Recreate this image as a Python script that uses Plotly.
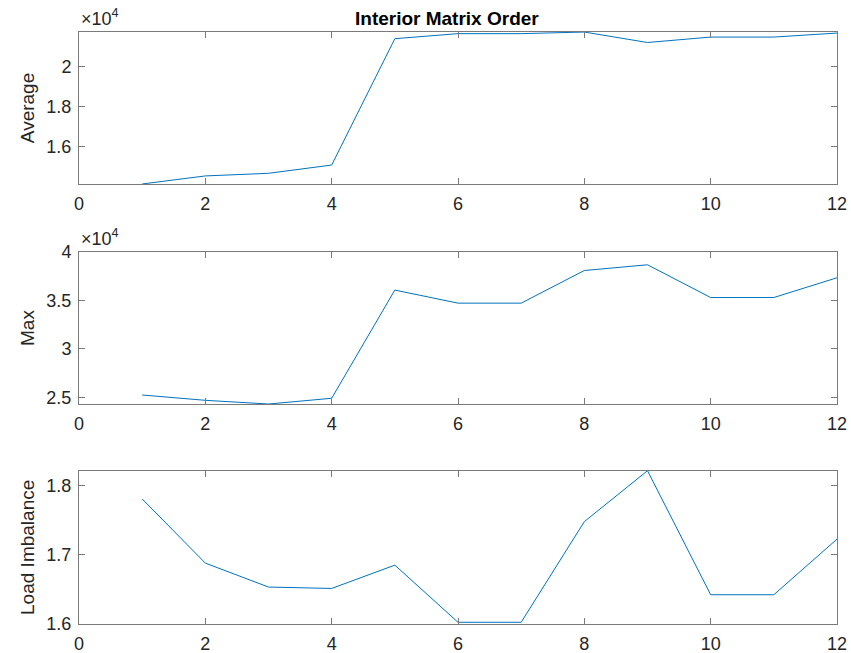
import plotly.graph_objects as go
from plotly.subplots import make_subplots

# Matrix order index
order = [1, 2, 3, 4, 5, 6, 7, 8, 9, 10, 11, 12]

# Per-order statistics
average = [14150, 14550, 14680, 15090, 21370, 21620, 21620, 21700, 21180, 21450, 21450, 21650]
maximum = [25240, 24690, 24310, 24900, 36070, 34720, 34720, 38090, 38680, 35300, 35300, 37340]
imbalance = [1.7808, 1.688, 1.6534, 1.6514, 1.6851, 1.6025, 1.6025, 1.748, 1.8216, 1.6423, 1.6423, 1.7227]

x_ticks = [0, 2, 4, 6, 8, 10, 12]

W, H = 851, 653
ML, MR, MT, MB = 79, 14, 32, 29
PH = H - MT - MB


def ydom(top_px, bot_px):
    lo = 1 - (bot_px - MT) / PH
    hi = 1 - (top_px - MT) / PH
    return [max(0.0, min(1.0, lo)), max(0.0, min(1.0, hi))]


fig = make_subplots(rows=3, cols=1)

line_color = "#0072BD"
fig.add_trace(go.Scatter(x=order, y=[v / 1e4 for v in average], mode="lines",
                         line=dict(color=line_color, width=1)), row=1, col=1)
fig.add_trace(go.Scatter(x=order, y=[v / 1e4 for v in maximum], mode="lines",
                         line=dict(color=line_color, width=1)), row=2, col=1)
fig.add_trace(go.Scatter(x=order, y=imbalance, mode="lines",
                         line=dict(color=line_color, width=1)), row=3, col=1)

FONT = "Liberation Sans, Arial, sans-serif"
tick_font = dict(family=FONT, size=18, color="#262626")
label_font = dict(family=FONT, size=19, color="#262626")
axis_color = "#7a7a7a"

common_x = dict(range=[0, 12], tickvals=x_ticks, ticks="inside", ticklen=6,
                tickcolor=axis_color, showline=True, linecolor=axis_color, linewidth=1,
                mirror="ticks", showgrid=False, zeroline=False, tickfont=tick_font,
                automargin=False, ticklabelstandoff=3)
common_y = dict(ticks="inside", ticklen=6, tickcolor=axis_color, showline=True,
                linecolor=axis_color, linewidth=1, mirror="ticks", showgrid=False,
                zeroline=False, tickfont=tick_font, automargin=False,
                ticklabelstandoff=3)

domains = [ydom(32, 184), ydom(252, 404), ydom(470.7, 624)]

fig.update_layout(
    xaxis=dict(**common_x),
    xaxis2=dict(**common_x),
    xaxis3=dict(**common_x),
    yaxis=dict(**common_y, domain=domains[0], range=[1.4149, 2.1702],
               tickvals=[1.6, 1.8, 2.0], ticktext=["1.6", "1.8", "2"],
               title=dict(text="Average", font=label_font, standoff=6)),
    yaxis2=dict(**common_y, domain=domains[1], range=[2.431, 4.0],
                tickvals=[2.5, 3.0, 3.5, 4.0], ticktext=["2.5", "3", "3.5", "4"],
                title=dict(text="Max", font=label_font, standoff=6)),
    yaxis3=dict(**common_y, domain=domains[2], range=[1.6, 1.8216],
                tickvals=[1.6, 1.7, 1.8], ticktext=["1.6", "1.7", "1.8"],
                title=dict(text="Load Imbalance", font=label_font, standoff=6)),
    width=W, height=H, autosize=False,
    margin=dict(l=ML, r=MR, t=MT, b=MB, pad=0),
    paper_bgcolor="white", plot_bgcolor="white",
    showlegend=False,
)

# Axis exponent labels and the figure title
for dom in domains[:2]:
    fig.add_annotation(xref="paper", yref="paper", x=0, y=dom[1], yshift=1,
                       xanchor="left", yanchor="bottom", showarrow=False,
                       text="×10<sup>4</sup>",
                       font=dict(family=FONT, size=18, color="#262626"))

fig.add_annotation(xref="paper", yref="paper", x=(447 - ML) / (W - ML - MR), y=1,
                   yshift=1, xanchor="center", yanchor="bottom", showarrow=False,
                   text="<b>Interior Matrix Order</b>",
                   font=dict(family=FONT, size=19, color="black"))

fig.write_html("out.html")
